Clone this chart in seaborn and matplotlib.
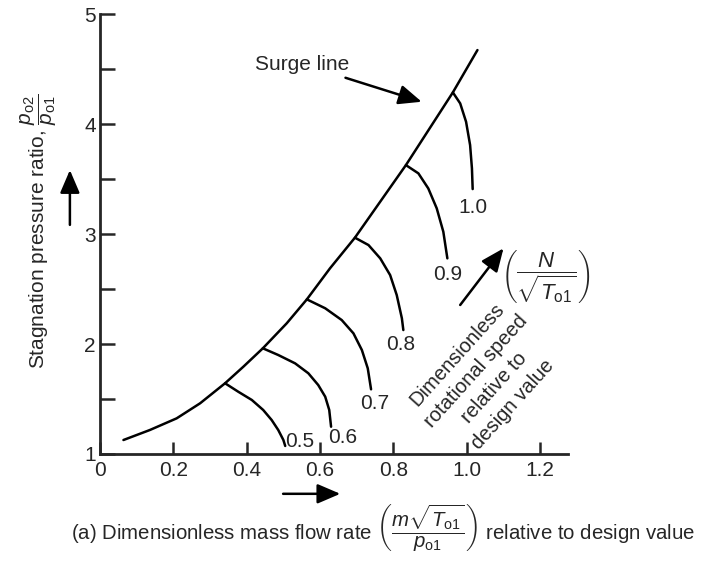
import numpy as np
import pandas as pd
import matplotlib
matplotlib.use("Agg")
import matplotlib.pyplot as plt
import seaborn as sns

# Surge line (mass flow ratio, pressure ratio)
surge_x = [0.064, 0.136, 0.209, 0.273, 0.341, 0.391, 0.444, 0.509, 0.564, 0.627, 0.695, 0.834, 0.962, 1.029]
surge_y = [1.127, 1.218, 1.324, 1.461, 1.643, 1.794, 1.961, 2.188, 2.406, 2.688, 2.967, 3.627, 4.288, 4.673]

# Constant speed lines
speed_05_x = [0.341, 0.377, 0.414, 0.445, 0.468, 0.486, 0.500, 0.505]
speed_05_y = [1.643, 1.566, 1.491, 1.400, 1.309, 1.218, 1.127, 1.073]
speed_06_x = [0.444, 0.486, 0.532, 0.568, 0.595, 0.614, 0.625, 0.630]
speed_06_y = [1.961, 1.900, 1.824, 1.734, 1.627, 1.521, 1.400, 1.248]
speed_07_x = [0.564, 0.614, 0.659, 0.691, 0.714, 0.730, 0.739]
speed_07_y = [2.406, 2.325, 2.218, 2.097, 1.945, 1.779, 1.588]
speed_08_x = [0.695, 0.732, 0.764, 0.791, 0.809, 0.823, 0.827]
speed_08_y = [2.967, 2.900, 2.779, 2.627, 2.445, 2.234, 2.127]
speed_09_x = [0.834, 0.868, 0.895, 0.918, 0.936, 0.947]
speed_09_y = [3.627, 3.552, 3.415, 3.234, 3.021, 2.779]
speed_10_x = [0.962, 0.982, 0.998, 1.009, 1.014, 1.016]
speed_10_y = [4.288, 4.188, 4.021, 3.809, 3.597, 3.409]

speed_labels = ["0.5", "0.6", "0.7", "0.8", "0.9", "1.0"]
label_x = [0.545, 0.663, 0.750, 0.821, 0.949, 1.016]
label_y = [1.114, 1.150, 1.459, 2.000, 2.636, 3.241]

x_ticks = [0, 0.2, 0.4, 0.6, 0.8, 1.0, 1.2]
x_ticklabels = ["0", "0.2", "0.4", "0.6", "0.8", "1.0", "1.2"]
y_ticks = [1, 2, 3, 4, 5]

sns.set_style("ticks")
plt.rcParams['font.family'] = ['Liberation Sans', 'DejaVu Sans']
plt.rcParams['mathtext.fontset'] = 'custom'
plt.rcParams['mathtext.rm'] = 'Liberation Sans'
plt.rcParams['mathtext.it'] = 'Liberation Sans:italic'
plt.rcParams['mathtext.bf'] = 'Liberation Sans:bold'

fig = plt.figure(figsize=(7.06, 5.65), dpi=100)
ax = fig.add_axes([0.1416, 0.1965, 0.663, 0.7785])

lw = 1.8
sns.lineplot(x=surge_x, y=surge_y, sort=False, color='black', linewidth=lw, ax=ax)
speed_lines = [(speed_05_x, speed_05_y), (speed_06_x, speed_06_y), (speed_07_x, speed_07_y),
               (speed_08_x, speed_08_y), (speed_09_x, speed_09_y), (speed_10_x, speed_10_y)]
for (sx, sy) in speed_lines:
    sns.lineplot(x=sx, y=sy, sort=False, color='black', linewidth=lw, ax=ax)

for lab, lx, ly in zip(speed_labels, label_x, label_y):
    ax.text(lx, ly, lab, ha='center', va='center', fontsize=15)

ax.set_xlim(0, 1.276)
ax.set_ylim(1, 5)
ax.set_xticks(x_ticks)
ax.set_xticklabels(x_ticklabels)
ax.set_yticks(y_ticks)
ax.set_yticks([1.5, 2.5, 3.5, 4.5], minor=True)
sns.despine(ax=ax)
for s in ['left', 'bottom']:
    ax.spines[s].set_linewidth(2)
ax.tick_params(axis='y', which='both', direction='in', length=11, width=1.8, labelsize=15, pad=3)
ax.tick_params(axis='x', which='major', direction='in', length=9, width=1.8, labelsize=15, pad=5)

arrow_style = '-|>,head_length=0.7,head_width=0.3'

# surge line annotation
ax.annotate("Surge line", xy=(0.877, 4.203), xytext=(0.423, 4.545), fontsize=15,
            ha='left', va='center',
            arrowprops=dict(arrowstyle=arrow_style, color='black', lw=1.8, mutation_scale=20,
                            shrinkA=2, shrinkB=0))

# rotational speed arrow and text
ax.annotate("", xy=(1.10, 2.87), xytext=(0.982, 2.355),
            arrowprops=dict(arrowstyle=arrow_style, color='black', lw=1.8, mutation_scale=20,
                            shrinkA=0, shrinkB=0), annotation_clip=False)
ax.text(1.216, 2.618, r'$\left(\dfrac{N}{\sqrt{T_{\rm o1}}}\right)$', ha='center', va='center',
        fontsize=16, clip_on=False)
ax.text(1.05, 1.68, "Dimensionless\nrotational speed\nrelative to\ndesign value",
        ha='center', va='center', rotation=48, rotation_mode='anchor', fontsize=14.5,
        linespacing=1.4, clip_on=False)

# axis labels
fig.text(0.055, 0.591, r'Stagnation pressure ratio, $\dfrac{p_{\rm o2}}{p_{\rm o1}}$',
         rotation=90, ha='center', va='center', fontsize=15)
fig.text(0.542, 0.0655,
         r'(a) Dimensionless mass flow rate $\left(\dfrac{m\sqrt{T_{\rm o1}}}{p_{\rm o1}}\right)$ relative to design value',
         ha='center', va='center', fontsize=14.7)

# direction arrows
arrow_kw = dict(arrowstyle=arrow_style, color='black', lw=1.8, mutation_scale=20, shrinkA=0, shrinkB=0)
fig.add_artist(matplotlib.patches.FancyArrowPatch((0.099, 0.602), (0.099, 0.699),
                                                  transform=fig.transFigure, **arrow_kw))
fig.add_artist(matplotlib.patches.FancyArrowPatch((0.401, 0.126), (0.482, 0.126),
                                                  transform=fig.transFigure, **arrow_kw))

fig.savefig("out.png", dpi=100)
